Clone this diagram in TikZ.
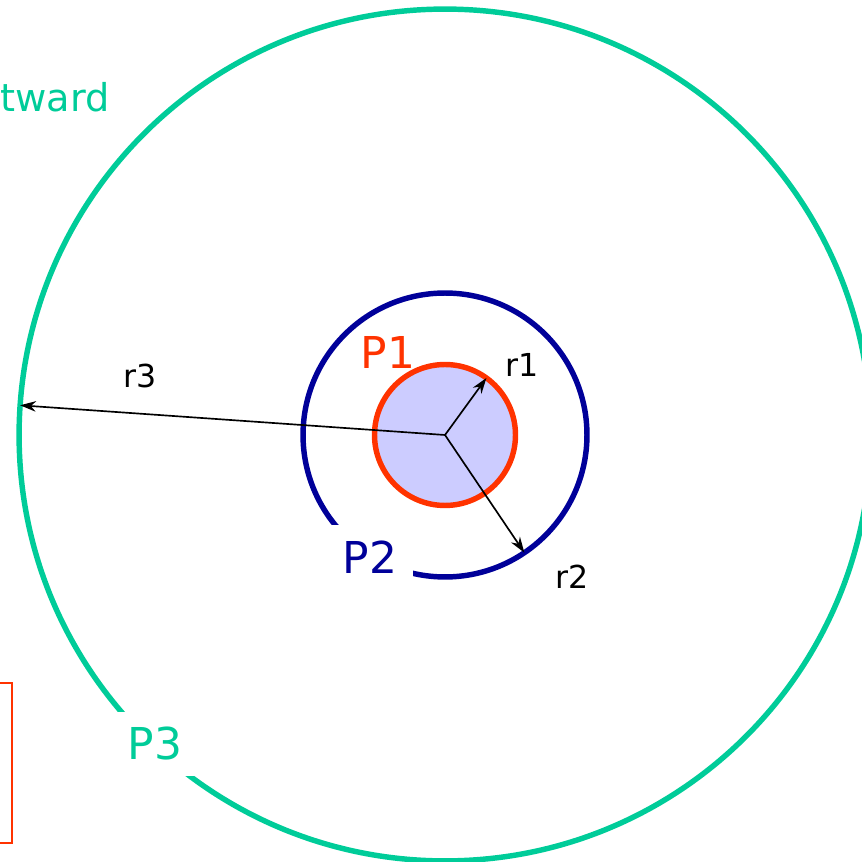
\documentclass[tikz,border=0pt]{standalone}
\usepackage{fontspec}
\setmainfont{DejaVu Sans}
\usetikzlibrary{arrows.meta}
\definecolor{ringgreen}{RGB}{0,204,153}
\definecolor{ringblue}{RGB}{0,0,153}
\definecolor{ringred}{RGB}{255,51,0}
\definecolor{corefill}{RGB}{204,204,255}
\begin{document}
\begin{tikzpicture}[x=0.02cm,y=0.02cm,
  ring/.style={circle,draw,line width=3.1pt,outer sep=0pt,inner sep=0pt},
  ptext/.style={font=\fontsize{25}{30}\selectfont},
  plabel/.style={ptext,fill=white,inner sep=9pt},
  rlabel/.style={font=\fontsize{18}{22}\selectfont},
  rad/.style={-{Stealth[length=9pt,width=6pt]},line width=0.95pt}]
\useasboundingbox (0,0) rectangle (862,862);
\coordinate (c) at (445,427);
% rings
\node[ring,draw=ringgreen,minimum size=17.04cm] (p3) at (c) {};
\node[ring,draw=ringblue,minimum size=5.68cm] (p2) at (c) {};
\node[ring,draw=ringred,fill=corefill,minimum size=2.82cm] (p1) at (c) {};
% radii
\draw[rad] (c) -- (p1.54);
\draw[rad] (c) -- (p2.-56);
\draw[rad] (c) -- (p3.176);
\node[rlabel] (r1) at (522,497) {r1};
\node[rlabel] (r2) at (572,285) {r2};
\node[rlabel] (r3) at (140,486) {r3};
% labels
\node[ptext,text=ringred] (l1) at (388,510) {P1};
\node[plabel,text=ringblue] (l2) at (370,305) {P2};
\node[plabel,text=ringgreen] (l3) at (155,118) {P3};
\node[anchor=base west,inner sep=0pt,text=ringgreen,
      font=\fontsize{21.8}{26}\selectfont] (out) at (0,750) {tward};
\draw[ringred,line width=1.7pt] (-20,19) rectangle (12,179);
\end{tikzpicture}
\end{document}
